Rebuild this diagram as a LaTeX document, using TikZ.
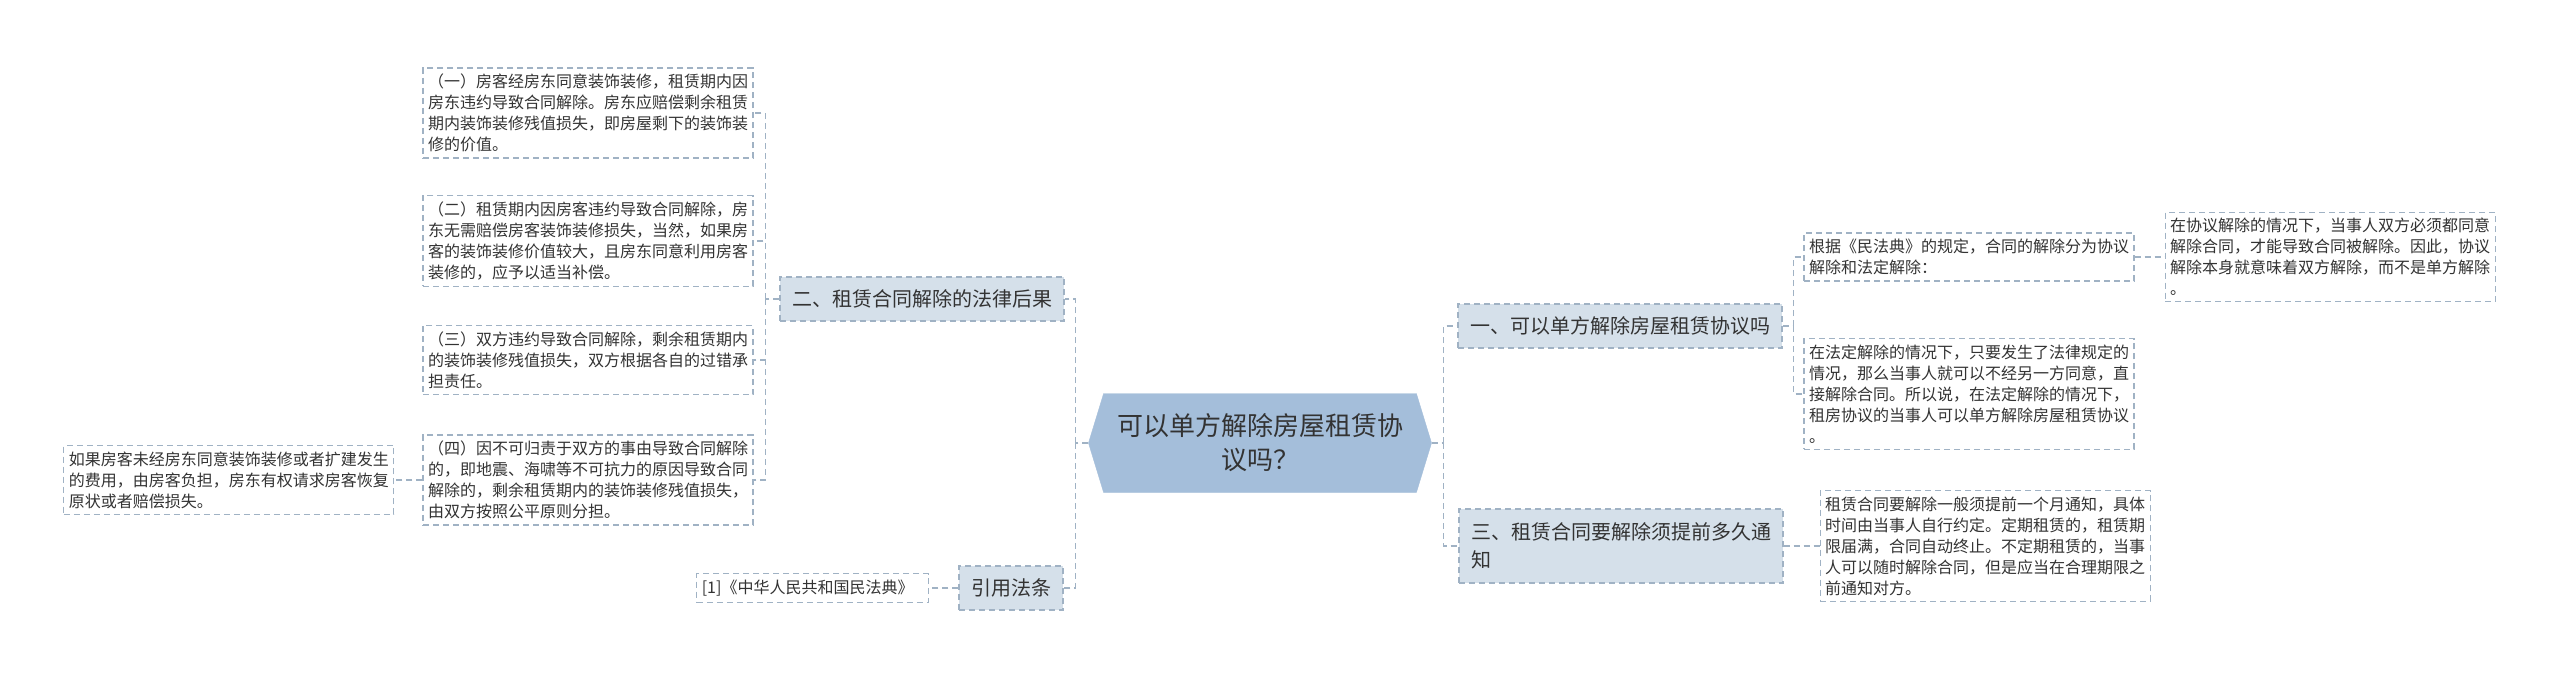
\documentclass[tikz,border=0pt]{standalone}
\usepackage{fontspec}
\setmainfont{Noto Sans CJK SC}
\definecolor{rootblue}{RGB}{164,190,218}
\definecolor{topicblue}{RGB}{213,224,234}
\definecolor{linegray}{RGB}{160,178,196}
\definecolor{inkgray}{RGB}{51,51,51}
\usetikzlibrary{positioning,shapes.symbols}

\begin{document}
\begin{tikzpicture}[x=1pt, y=-1pt,
      link/.style={linegray, line width=1.3pt, dash pattern=on 6pt off 4pt},
      root/.style={signal, signal to=west and east, signal pointer angle=146,
                   fill=rootblue, draw=rootblue, text=inkgray, align=center,
                   minimum width=343pt, minimum height=99pt,
                   font=\fontsize{26}{34}\selectfont},
      topic/.style={draw=linegray, line width=1.2pt, dash pattern=on 6pt off 4pt,
                    fill=topicblue, text=inkgray, inner xsep=12pt, minimum height=44pt,
                    font=\fontsize{20}{28}\selectfont},
      leaf/.style={draw=linegray, line width=1.2pt, dash pattern=on 6pt off 4pt,
                   fill=white, text=inkgray, align=left, text width=320pt,
                   inner xsep=5pt, inner ysep=6pt, font=\fontsize{16}{21}\selectfont}
    ]
    \fill[white] (0,0) rectangle (2560,678);
    \useasboundingbox (0,0) rectangle (2560,678);
    % centre and main topics
    \node[root] (root) at (1260,443) {可以单方解除房屋租赁协\\议吗？};
    \node[topic] (t2) at (922,299) {二、租赁合同解除的法律后果};
    \node[topic] (cite) at (1011,588) {引用法条};
    \node[topic] (t1) at (1620,326) {一、可以单方解除房屋租赁协议吗};
    \node[topic, align=left, text width=300pt, minimum height=74pt] (t3) at (1621,546)
      {三、租赁合同要解除须提前多久通\\知};
    % left leaves
    \node[leaf] (a1) at (588,113) {（一）房客经房东同意装饰装修，租赁期内因\\房东违约导致合同解除。房东应赔偿剩余租赁\\期内装饰装修残值损失，即房屋剩下的装饰装\\修的价值。};
    \node[leaf] (a2) at (588,241) {（二）租赁期内因房客违约导致合同解除，房\\东无需赔偿房客装饰装修损失，当然，如果房\\客的装饰装修价值较大，且房东同意利用房客\\装修的，应予以适当补偿。};
    \node[leaf] (a3) at (588,360) {（三）双方违约导致合同解除，剩余租赁期内\\的装饰装修残值损失，双方根据各自的过错承\\担责任。};
    \node[leaf] (a4) at (588,480) {（四）因不可归责于双方的事由导致合同解除\\的，即地震、海啸等不可抗力的原因导致合同\\解除的，剩余租赁期内的装饰装修残值损失，\\由双方按照公平原则分担。};
    \node[leaf, left=28pt of a4] (a4x) {如果房客未经房东同意装饰装修或者扩建发生\\的费用，由房客负担，房东有权请求房客恢复\\原状或者赔偿损失。};
    \node[leaf, text width=222pt, left=29pt of cite] (ref) {[1]《中华人民共和国民法典》};
    % right leaves
    \node[leaf] (r1) at (1969,257) {根据《民法典》的规定，合同的解除分为协议\\解除和法定解除：};
    \node[leaf, right=30pt of r1] (r1x) {在协议解除的情况下，当事人双方必须都同意\\解除合同，才能导致合同被解除。因此，协议\\解除本身就意味着双方解除，而不是单方解除\\。};
    \node[leaf] (r2) at (1969,394) {在法定解除的情况下，只要发生了法律规定的\\情况，那么当事人就可以不经另一方同意，直\\接解除合同。所以说，在法定解除的情况下，\\租房协议的当事人可以单方解除房屋租赁协议\\。};
    \node[leaf, right=36pt of t3] (r3) {租赁合同要解除一般须提前一个月通知，具体\\时间由当事人自行约定。定期租赁的，租赁期\\限届满，合同自动终止。不定期租赁的，当事\\人可以随时解除合同，但是应当在合理期限之\\前通知对方。};
    % connectors
    \coordinate (jl) at ([xshift=-13pt]root.west);
    \coordinate (ja) at ([xshift=-14pt]t2.west);
    \coordinate (jr) at ([xshift=12pt]root.east);
    \coordinate (jb) at ([xshift=11pt]t1.east);
    \draw[link] (root.west) -- (jl);
    \draw[link] (jl) |- (t2.east);
    \draw[link] (jl) |- (cite.east);
    \draw[link] (t2.west) -- (ja);
    \foreach \n in {a1,a2,a3,a4}
      \draw[link] (ja) |- (\n.east);
    \draw[link] (a4.west) -- (a4x.east);
    \draw[link] (cite.west) -- (ref.east);
    \draw[link] (root.east) -- (jr);
    \draw[link] (jr) |- (t1.west);
    \draw[link] (jr) |- (t3.west);
    \draw[link] (t1.east) -- (jb);
    \draw[link] (jb) |- (r1.west);
    \draw[link] (jb) |- (r2.west);
    \draw[link] (r1.east) -- (r1x.west);
    \draw[link] (t3.east) -- (r3.west);
  \end{tikzpicture}
\end{document}
